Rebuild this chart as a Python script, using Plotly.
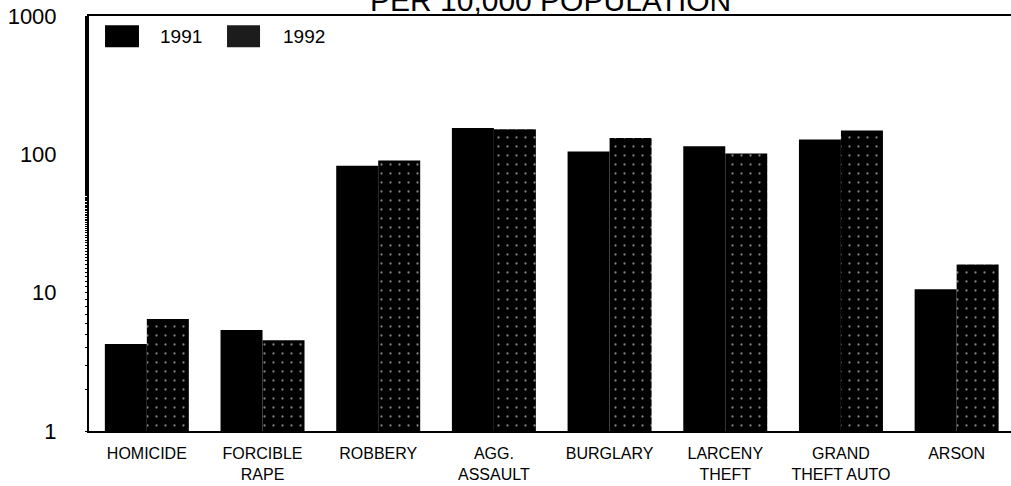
import plotly.graph_objects as go

categories = ["HOMICIDE", "FORCIBLE<br>RAPE", "ROBBERY", "AGG.<br>ASSAULT",
              "BURGLARY", "LARCENY<br>THEFT", "GRAND<br>THEFT AUTO", "ARSON"]
rate_1991 = [4.26, 5.38, 82.6, 155, 104.7, 114.6, 128, 10.6]
rate_1992 = [6.46, 4.53, 90.2, 152, 131, 101.4, 148.5, 16.0]
y_ticks = [1, 10, 100, 1000]

FONT = "Liberation Sans, Arial, sans-serif"

fig = go.Figure()
fig.add_trace(go.Bar(
    name="1991", x=categories, y=rate_1991,
    marker=dict(color="black", line=dict(width=0)),
))
fig.add_trace(go.Bar(
    name="1992", x=categories, y=rate_1992,
    marker=dict(color="black", line=dict(width=0),
                pattern=dict(shape=".", fgcolor="white", bgcolor="black",
                             size=9, solidity=0.05)),
))

# hand-drawn legend, matching the large swatches of the original
fig.add_shape(type="rect", xref="paper", yref="paper",
              x0=0.0174, x1=0.0542, y0=0.925, y1=0.978,
              fillcolor="black", line=dict(width=0))
fig.add_shape(type="rect", xref="paper", yref="paper",
              x0=0.1497, x1=0.1855, y0=0.925, y1=0.978,
              fillcolor="#1c1c1c", line=dict(width=0))
fig.add_annotation(text="1991", xref="paper", yref="paper", x=0.075, y=0.951,
                   xanchor="left", yanchor="middle", showarrow=False,
                   font=dict(size=19, color="black", family=FONT))
fig.add_annotation(text="1992", xref="paper", yref="paper", x=0.208, y=0.951,
                   xanchor="left", yanchor="middle", showarrow=False,
                   font=dict(size=19, color="black", family=FONT))

# title sits partly above the page edge, as in the scan
fig.add_annotation(text="PER 10,000 POPULATION", xref="paper", yref="paper",
                   x=0.5, y=1, xanchor="center", yanchor="middle", yshift=16,
                   showarrow=False, font=dict(size=30, color="black", family=FONT))

fig.update_layout(
    width=1011, height=486,
    margin=dict(l=89, r=0, t=16, b=55),
    barmode="group", bargap=0.274, bargroupgap=0,
    showlegend=False,
    plot_bgcolor="white", paper_bgcolor="white",
    font=dict(family=FONT, color="black"),
    xaxis=dict(range=[-0.5, 7.47], showline=True, linecolor="black", linewidth=2,
               mirror=True, ticks="", ticklabelstandoff=7,
               tickfont=dict(size=16), showgrid=False),
    yaxis=dict(type="log", range=[0, 3], tickvals=y_ticks,
               ticktext=[str(v) for v in y_ticks], showline=True,
               linecolor="black", linewidth=2, ticks="outside", ticklen=0,
               ticklabelstandoff=26, tickfont=dict(size=22), showgrid=False,
               zeroline=False,
               minor=dict(ticks="outside", ticklen=2, tickcolor="black",
                          showgrid=False)),
)

fig.write_html("out.html", config={"displayModeBar": False},
               post_script="document.body.style.margin='0';")
